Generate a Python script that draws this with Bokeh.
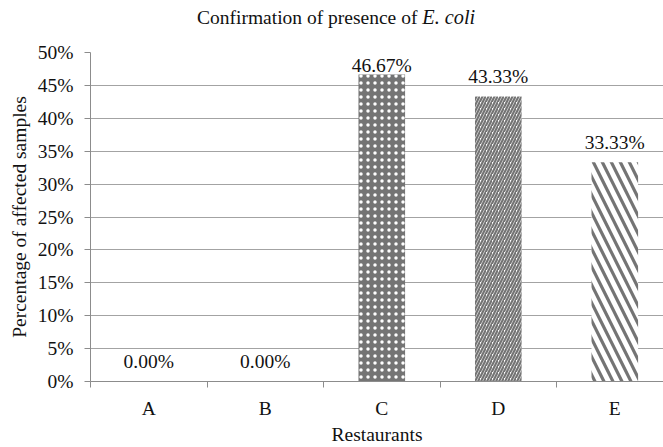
from bokeh.plotting import figure
from bokeh.models import Range1d, FixedTicker, ColumnDataSource, Div
from bokeh.layouts import column
from bokeh.embed import file_html
from bokeh.resources import INLINE
from bokeh.core.properties import value

# ---- data ----
restaurants = ["A", "B", "C", "D", "E"]
percent = [0.00, 0.00, 46.67, 43.33, 33.33]
y_ticks = [0, 5, 10, 15, 20, 25, 30, 35, 40, 45, 50]
y_tick_labels = [f"{t}%" for t in y_ticks]
title_plain = "Confirmation of presence of "
title_italic = "E. coli"
x_title = "Restaurants"
y_title = "Percentage of affected samples"

# ---- styles ----
FONT = "Liberation Serif"
FS = "19.5px"
GRID = "#a3a3a3"
AXIS = "#8c8c8c"
TXT = "#111111"
BAR_GRAY = "#747474"
fills = ["white", "white", BAR_GRAY, "white", "white"]
hatches = [" ", " ", "dot", "/", "\\"]
hatch_colors = [BAR_GRAY, BAR_GRAY, "white", BAR_GRAY, BAR_GRAY]
hatch_scales = [6, 6, 7, 6, 18]
hatch_weights = [1, 1, 1.4, 2.2, 3.2]

n = len(restaurants)
centers = [i + 0.5 for i in range(n)]
bounds = [float(i) for i in range(n + 1)]
label_offsets = [-9 if v > 45 else -20 for v in percent]

src = ColumnDataSource(dict(
    x=centers, top=percent, fill=fills, hatch=hatches, hcol=hatch_colors,
    hscale=hatch_scales, hweight=hatch_weights,
    lab=[f"{v:.2f}%" for v in percent], yoff=label_offsets,
))

W = 663
title_div = Div(
    text=(f'<div style="padding-left:197px; padding-top:8px; font-family:\'{FONT}\'; '
          f'font-size:{FS}; line-height:19px; white-space:nowrap; color:{TXT};">'
          f'{title_plain}<i style="font-size:20.3px;">{title_italic}</i></div>'),
    width=W, height=30, margin=(0, 0, 0, 0))

p = figure(width=W, height=417, output_backend="svg", toolbar_location=None,
           x_range=Range1d(0, 4.918), y_range=Range1d(0, 50),
           min_border_left=90, min_border_right=0, min_border_top=22,
           min_border_bottom=64, margin=(0, 0, 0, 0))
p.outline_line_color = None
p.background_fill_color = "white"
p.border_fill_color = "white"

p.vbar(x="x", top="top", bottom=0, width=0.4, source=src,
       fill_color="fill", line_color=None,
       hatch_pattern="hatch", hatch_color="hcol",
       hatch_scale="hscale", hatch_weight="hweight")

p.text(x="x", y="top", text="lab", source=src, y_offset="yoff",
       text_align="center", text_baseline="alphabetic",
       text_font=value(FONT), text_font_size=FS, text_color=TXT)

# grid
p.xgrid.visible = False
p.ygrid.ticker = FixedTicker(ticks=y_ticks)
p.ygrid.grid_line_color = GRID
p.ygrid.grid_line_width = 1

# y axis
ya = p.yaxis[0]
ya.ticker = FixedTicker(ticks=y_ticks)
ya.major_label_overrides = {t: l for t, l in zip(y_ticks, y_tick_labels)}
ya.major_tick_out = 6
ya.major_tick_in = 0
ya.minor_tick_out = 0
ya.axis_line_color = AXIS
ya.major_tick_line_color = AXIS
ya.major_label_text_font = FONT
ya.major_label_text_font_size = FS
ya.major_label_text_color = TXT
ya.major_label_standoff = 11
ya.axis_label = y_title
ya.axis_label_text_font = FONT
ya.axis_label_text_font_size = FS
ya.axis_label_text_font_style = "normal"
ya.axis_label_text_color = TXT
ya.axis_label_standoff = 5

# x axis
xa = p.xaxis[0]
xa.ticker = FixedTicker(ticks=centers, minor_ticks=bounds)
xa.major_label_overrides = {c: r for c, r in zip(centers, restaurants)}
xa.major_tick_out = 0
xa.major_tick_in = 0
xa.minor_tick_out = 6
xa.minor_tick_in = 0
xa.minor_tick_line_color = AXIS
xa.axis_line_color = AXIS
xa.major_label_text_font = FONT
xa.major_label_text_font_size = FS
xa.major_label_text_color = TXT
xa.major_label_standoff = 10
xa.axis_label = x_title
xa.axis_label_text_font = FONT
xa.axis_label_text_font_size = FS
xa.axis_label_text_font_style = "normal"
xa.axis_label_text_color = TXT
xa.axis_label_standoff = 2

layout = column(title_div, p, spacing=0, margin=(0, 0, 0, 0))
open("out.html", "w").write(file_html(layout, INLINE))
